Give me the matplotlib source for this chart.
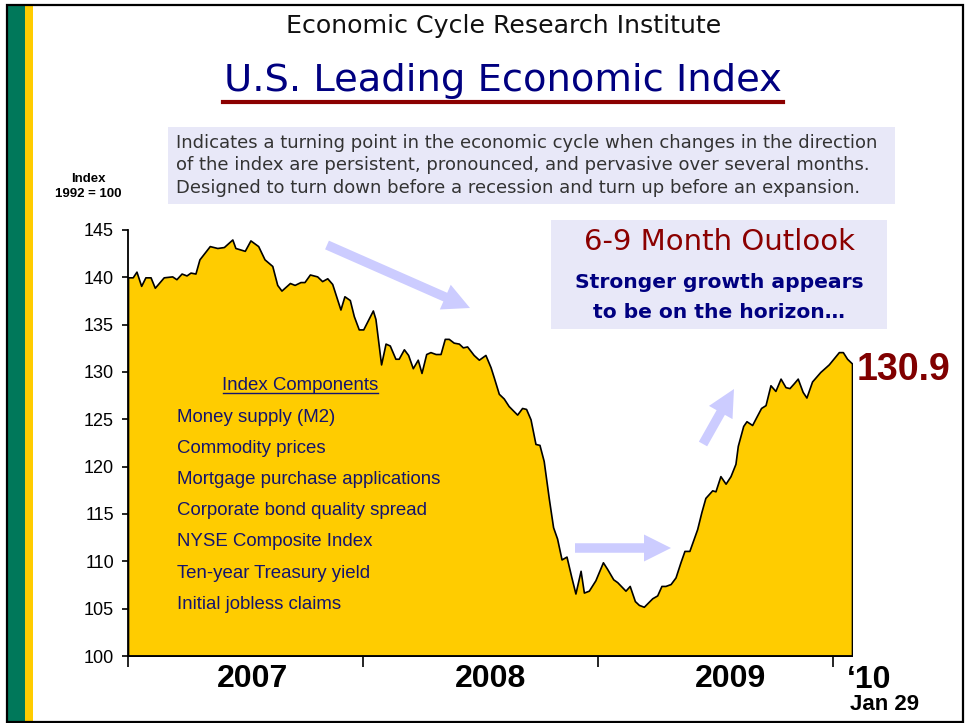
import matplotlib
matplotlib.use("Agg")
import matplotlib.pyplot as plt
from matplotlib.patches import Rectangle, FancyArrow
from matplotlib.lines import Line2D

W, H = 967, 723

# weekly-ish readings of the ECRI weekly leading index
# (decimal year, index value, 1992 = 100)
year = [
    2007.000, 2007.020, 2007.036, 2007.056, 2007.074, 2007.096, 2007.114, 2007.152,
    2007.188, 2007.206, 2007.228, 2007.249, 2007.266, 2007.287, 2007.304, 2007.348,
    2007.380, 2007.408, 2007.444, 2007.457, 2007.497, 2007.521, 2007.554, 2007.581,
    2007.614, 2007.635, 2007.653, 2007.689, 2007.709, 2007.734, 2007.751, 2007.774,
    2007.805, 2007.826, 2007.848, 2007.869, 2007.904, 2007.921, 2007.944, 2007.961,
    2007.982, 2008.001, 2008.042, 2008.053, 2008.077, 2008.096, 2008.114, 2008.138,
    2008.152, 2008.174, 2008.192, 2008.212, 2008.233, 2008.249, 2008.269, 2008.287,
    2008.309, 2008.330, 2008.348, 2008.365, 2008.386, 2008.408, 2008.425, 2008.443,
    2008.471, 2008.493, 2008.521, 2008.543, 2008.557, 2008.578, 2008.599, 2008.620,
    2008.656, 2008.677, 2008.694, 2008.713, 2008.734, 2008.751, 2008.769, 2008.791,
    2008.809, 2008.826, 2008.845, 2008.866, 2008.887, 2008.904, 2008.926, 2008.940,
    2008.961, 2008.989, 2009.021, 2009.039, 2009.065, 2009.082, 2009.117, 2009.135,
    2009.157, 2009.174, 2009.195, 2009.231, 2009.252, 2009.270, 2009.287, 2009.309,
    2009.330, 2009.351, 2009.368, 2009.389, 2009.422, 2009.440, 2009.457, 2009.486,
    2009.500, 2009.521, 2009.543, 2009.564, 2009.585, 2009.595, 2009.618, 2009.632,
    2009.656, 2009.677, 2009.694, 2009.713, 2009.734, 2009.755, 2009.777, 2009.798,
    2009.815, 2009.833, 2009.850, 2009.871, 2009.887, 2009.911, 2009.946, 2009.982,
    2010.025, 2010.042, 2010.060, 2010.081,
]
lei = [
    140.0, 140.0, 140.6, 139.1, 140.0, 140.0, 138.9, 140.0,
    140.1, 139.8, 140.4, 140.2, 140.5, 140.4, 141.9, 143.3,
    143.1, 143.2, 144.0, 143.1, 142.8, 143.9, 143.3, 141.9,
    141.2, 139.2, 138.6, 139.4, 139.2, 139.5, 139.5, 140.3,
    140.1, 139.6, 139.9, 139.3, 136.6, 138.0, 137.6, 135.9,
    134.5, 134.5, 136.5, 135.6, 130.8, 133.0, 132.8, 131.4,
    131.4, 132.4, 131.8, 130.4, 131.3, 129.9, 131.9, 132.1,
    131.9, 131.9, 133.5, 133.5, 133.1, 133.0, 132.6, 132.7,
    131.8, 131.3, 131.8, 130.5, 129.4, 127.7, 127.2, 126.4,
    125.5, 126.2, 126.1, 125.0, 122.4, 122.3, 120.6, 116.6,
    113.6, 112.4, 110.2, 110.5, 108.3, 106.6, 109.0, 106.7,
    106.9, 108.0, 109.9, 109.2, 108.1, 107.8, 106.9, 107.4,
    105.8, 105.4, 105.2, 106.1, 106.4, 107.4, 107.4, 107.6,
    108.3, 109.9, 111.1, 111.1, 113.4, 115.2, 116.7, 117.5,
    117.4, 119.0, 118.2, 119.0, 120.3, 122.2, 124.3, 124.8,
    124.4, 125.4, 126.2, 126.5, 128.6, 128.0, 129.3, 128.4,
    128.3, 128.8, 129.3, 127.9, 127.3, 129.0, 130.0, 130.8,
    132.1, 132.1, 131.4, 130.9,
]

year_ticks = [2007, 2008, 2009, 2010]
year_labels = ["2007", "2008", "2009"]
year_label_pos = [2007.53, 2008.545, 2009.565]
y_ticks = [100, 105, 110, 115, 120, 125, 130, 135, 140, 145]
components = [
    "Money supply (M2)",
    "Commodity prices",
    "Mortgage purchase applications",
    "Corporate bond quality spread",
    "NYSE Composite Index",
    "Ten-year Treasury yield",
    "Initial jobless claims",
]
latest = "130.9"

GOLD = "#FFCC00"
NAVY = "#000080"
MAROON = "#8B0000"
BOX = "#E8E8F8"
ARROW = "#CCCCFF"
ARIAL = "Liberation Sans"

fig = plt.figure(figsize=(W / 100, H / 100), dpi=100)

# main chart, placed in pixel terms
l, r, t, b = 128, 852, 230, 656
ax = fig.add_axes([l / W, 1 - b / H, (r - l) / W, (b - t) / H])
ax.fill_between(year, lei, 100, facecolor=GOLD, edgecolor="black", linewidth=1.2, zorder=2)
ax.set_xlim(2007, year[-1])
ax.set_ylim(100, 145)
ax.patch.set_alpha(0)
for side in ["top", "right"]:
    ax.spines[side].set_visible(False)
for side in ["left", "bottom"]:
    ax.spines[side].set_linewidth(1.3)
ax.set_yticks(y_ticks)
ax.set_yticklabels([str(v) for v in y_ticks], fontfamily=ARIAL, fontsize=13)
ax.tick_params(axis="y", direction="out", length=4, width=1.2, pad=6)
ax.set_xticks(year_ticks)
ax.set_xticklabels([])
ax.tick_params(axis="x", direction="out", length=8, width=1.2)
ax.set_xticks(year_label_pos, minor=True)
ax.set_xticklabels(year_labels, minor=True, fontfamily=ARIAL, fontsize=23, fontweight="bold")
ax.tick_params(axis="x", which="minor", length=0, pad=6)

# overlay in pixel coordinates for the slide decoration
deco = fig.add_axes([0, 0, 1, 1])
deco.set_xlim(0, W)
deco.set_ylim(H, 0)
deco.axis("off")
deco.patch.set_alpha(0)

deco.add_patch(Rectangle((8, 5), 17, 717, color="#00785A", lw=0))
deco.add_patch(Rectangle((25, 5), 8, 717, color=GOLD, lw=0))
deco.add_patch(Rectangle((7, 5), 956, 717, fill=False, edgecolor="black", lw=1.6))

deco.text(504, 33, "Economic Cycle Research Institute", ha="center", va="baseline",
          fontsize=18.2, color="#111111")
deco.text(503, 91, "U.S. Leading Economic Index", ha="center", va="baseline",
          fontsize=27.7, color=NAVY)
deco.add_line(Line2D([223, 783], [102, 102], color=MAROON, lw=3))

deco.add_patch(Rectangle((168, 127), 727, 77, color=BOX, lw=0))
desc = [
    "Indicates a turning point in the economic cycle when changes in the direction",
    "of the index are persistent, pronounced, and pervasive over several months.",
    "Designed to turn down before a recession and turn up before an expansion.",
]
for i, line in enumerate(desc):
    deco.text(176, 148 + 22.5 * i, line, ha="left", va="baseline", fontsize=13, color="#333333")

deco.text(88, 182, "Index", ha="center", va="baseline", fontfamily=ARIAL, fontsize=9.5, fontweight="bold")
deco.text(88, 197, "1992 = 100", ha="center", va="baseline", fontfamily=ARIAL, fontsize=9.5, fontweight="bold")

deco.add_patch(Rectangle((551, 220), 336, 109, color=BOX, lw=0))
deco.text(719, 250, "6-9 Month Outlook", ha="center", va="baseline", fontsize=21, color=MAROON)
deco.text(719, 288, "Stronger growth appears", ha="center", va="baseline", fontsize=14.6,
          fontweight="bold", color=NAVY)
deco.text(719, 318, "to be on the horizon\u2026", ha="center", va="baseline", fontsize=14.6,
          fontweight="bold", color=NAVY)

deco.text(857, 380, latest, ha="left", va="baseline", fontfamily=ARIAL, fontsize=27,
          fontweight="bold", color="#800000")

deco.text(300, 390, "Index Components", ha="center", va="baseline", fontfamily=ARIAL,
          fontsize=13.4, color="#14146E")
deco.add_line(Line2D([223, 378], [393, 393], color="#14146E", lw=1))
for i, name in enumerate(components):
    deco.text(177, 422 + 31.1 * i, name, ha="left", va="baseline", fontfamily=ARIAL,
              fontsize=13.4, color="#14146E")

deco.text(847, 688, "\u201810", ha="left", va="baseline", fontfamily=ARIAL, fontsize=23, fontweight="bold")
deco.text(885, 710, "Jan 29", ha="center", va="baseline", fontfamily=ARIAL, fontsize=16, fontweight="bold")

arrows = [
    ((327, 245), (470, 308)),
    ((575, 548), (671, 548)),
    ((703, 444), (734, 389)),
]
for (x0, y0), (x1, y1) in arrows:
    deco.add_patch(FancyArrow(x0, y0, x1 - x0, y1 - y0, width=9.5, head_width=27,
                              head_length=27, length_includes_head=True,
                              color=ARROW, lw=0))

fig.savefig("out.png", dpi=100)
